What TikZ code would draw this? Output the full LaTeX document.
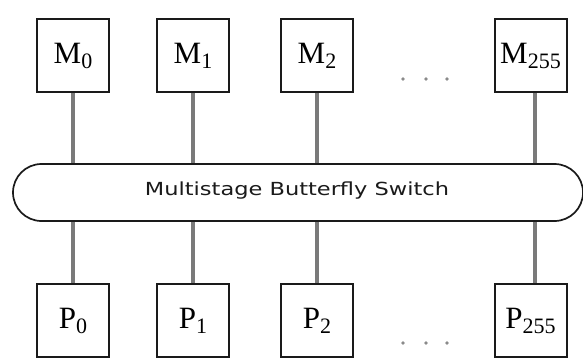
\documentclass[tikz,border=0pt]{standalone}
\usepackage{fontspec}
\setmainfont{Liberation Serif}
\newfontfamily\switchfont{DejaVu Sans}
\usetikzlibrary{shapes.misc,calc}
\definecolor{boxline}{HTML}{1A1A1A}
\definecolor{wire}{HTML}{7A7A7A}
\definecolor{dotc}{HTML}{8A8A8A}
\newcommand{\lbl}[2]{\fontsize{31}{31}\selectfont #1\raisebox{-5pt}{\fontsize{22}{22}\selectfont #2}}
\begin{document}
\begin{tikzpicture}[x=1pt,y=-1pt,
  unitbox/.style={draw=boxline,line width=2pt,minimum width=72pt,minimum height=73pt,inner sep=0pt,fill=white},
  wireline/.style={draw=wire,line width=3.2pt},
  dotn/.style={circle,fill=dotc,inner sep=0pt,minimum size=3.6pt},
  switchbox/.style={rounded rectangle,draw=boxline,line width=1.7pt,minimum width=570pt,minimum height=57pt,inner sep=0pt}]
\useasboundingbox (0,0) rectangle (583,361);
\fill[white] (0,0) rectangle (583,361);
% switch
\node[switchbox] (sw) at (298,192.5) {};
\node[text=boxline] (swt) at (297,190.5) {\switchfont\fontsize{18}{18}\selectfont\scalebox{1.25}[1]{Multistage Butterfly Switch}};
% memory boxes
\node[unitbox] (m0) at (73,55.5) {\lbl{M}{0}};
\node[unitbox] (m1) at (193,55.5) {\lbl{M}{1}};
\node[unitbox] (m2) at (317,55.5) {\lbl{M}{2}};
\node[unitbox] (m255) at (530.5,55.5) {\lbl{M}{255}};
% processor boxes
\node[unitbox] (p0) at (73,320.5) {\lbl{P}{0}};
\node[unitbox] (p1) at (193,320.5) {\lbl{P}{1}};
\node[unitbox] (p2) at (317,320.5) {\lbl{P}{2}};
\node[unitbox] (p255) at (530.5,320.5) {\lbl{P}{255}};
% wires
\foreach \n in {0,1,2}{
  \draw[wireline] (m\n.south) -- (m\n.south |- sw.north);
  \draw[wireline] (p\n.north) -- (p\n.north |- sw.south);
}
\draw[wireline] ([xshift=4.5pt]m255.south) -- ([xshift=4.5pt]m255.south |- sw.north);
\draw[wireline] ([xshift=4.5pt]p255.north) -- ([xshift=4.5pt]p255.north |- sw.south);
% dots
\node[dotn] (dm1) at (403,79) {};
\node[dotn] (dm2) at (426,79) {};
\node[dotn] (dm3) at (447,79) {};
\node[dotn] (dp1) at (403,343) {};
\node[dotn] (dp2) at (426,343) {};
\node[dotn] (dp3) at (447,343) {};
\end{tikzpicture}
\end{document}
